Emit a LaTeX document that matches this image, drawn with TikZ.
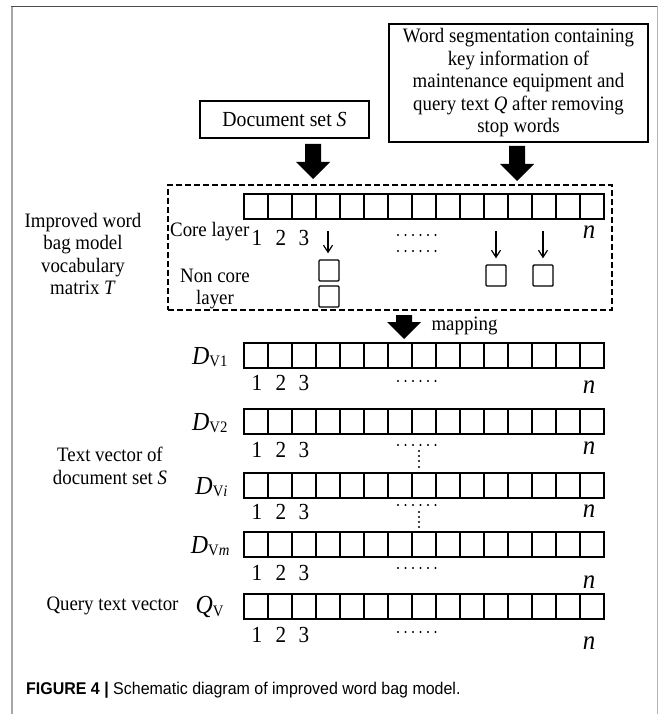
\documentclass[tikz,border=0pt]{standalone}
\usepackage{fontspec}
\setmainfont{Liberation Serif}[FakeStretch=0.92]
\setsansfont{Liberation Sans}[FakeStretch=0.94]
\usetikzlibrary{calc,arrows.meta}

\newcommand{\txtsize}{\fontsize{20.5}{22.5}\selectfont}
\newcommand{\numsize}{\fontsize{23}{24}\selectfont}
\newcommand{\nsize}{\fontsize{27}{28}\selectfont}
\newcommand{\vecname}[2]{{\fontsize{26}{27}\selectfont\textit{#1}}\raisebox{-0.6ex}{\fontsize{16}{16}\selectfont #2}}

\tikzset{
  cell/.style={draw, line width=1.5pt, minimum width=24pt, minimum height=25pt, inner sep=0pt, anchor=north west},
  textbox/.style={draw, line width=1.4pt, align=center, inner sep=2pt, font=\txtsize},
  smallbox/.style={draw, line width=1.4pt, minimum width=20pt, minimum height=21pt, inner sep=0pt, rounded corners=1pt},
  thinarrow/.style={-{Straight Barb[length=7pt,width=9pt]}, line width=1.2pt},
  fatarrow/.style={fill=black, to path={
    ($(\tikztostart)+(-8pt,0pt)$) -- ($(\tikztotarget)+(-8pt,17pt)$) -- ($(\tikztotarget)+(-17pt,17pt)$)
    -- (\tikztotarget) -- ($(\tikztotarget)+(17pt,17pt)$) -- ($(\tikztotarget)+(8pt,17pt)$)
    -- ($(\tikztostart)+(8pt,0pt)$) -- cycle}},
}

\begin{document}
\begin{tikzpicture}[x=1pt, y=-1pt]
  \useasboundingbox (0,0) rectangle (664,714);
  % frame of the figure
  \draw[black!35, line width=2pt] (12,6) -- (12,714);
  \draw[black!70, line width=1pt] (11,6.5) -- (657,6.5);
  \draw[black!30, line width=0.8pt] (657,6) -- (657,714);

  % input boxes
  \node[textbox, minimum width=169pt, minimum height=37pt, font=\fontsize{21.5}{24}\selectfont] (docset) at (284.5,119.5) {Document set \textit{S}};
  \node[textbox, minimum width=259pt, minimum height=118pt] (wordseg) at (518.5,83) {Word segmentation containing\\ key information of\\ maintenance equipment and\\ query text \textit{Q} after removing\\ stop words};
  \coordinate (a1top) at (313,144);
  \coordinate (a1tip) at (313,179);
  \coordinate (a2top) at (517,146);
  \coordinate (a2tip) at (517,181);
  \fill[fatarrow] (a1top) to (a1tip);
  \fill[fatarrow] (a2top) to (a2tip);

  % vocabulary matrix
  \node[draw, line width=1.4pt, dash pattern=on 6pt off 3pt, minimum width=444pt, minimum height=125pt] (vocab) at (390,247.5) {};
  \node[align=center, font=\txtsize] (vocablab) at (83,254) {Improved word\\ bag model\\ vocabulary\\ matrix \textit{T}};
  \node[anchor=west, inner sep=0pt, font=\txtsize] (corelab) at (170,232) {Core layer};
  \node[align=center, font=\txtsize] (noncorelab) at (215,289) {Non core\\ layer};

  % rows of cells
  \foreach \r/\y in {core/193, v1/342, v2/408, vi/472, vm/531, q/593}
    \foreach \k in {1,...,15}
      \node[cell] (\r-\k) at ({243+24*(\k-1)},\y) {};

  % indices under the rows
  \foreach \r/\y/\ny in {core/238/232, v1/383/387, v2/450/448, vi/512/511, vm/573/582, q/635/643} {
    \node[font=\numsize] (\r-one) at (257,\y) {1};
    \node[font=\numsize] (\r-two) at (281,\y) {2};
    \node[font=\numsize] (\r-three) at (304,\y) {3};
    \node[font=\nsize] (\r-n) at (589,\ny) {\textit{n}};
  }
  \foreach \y in {235, 251, 381, 445, 505, 568, 632}
    \foreach \j in {0,...,5}
      \fill ({398+7.5*\j},\y) circle (1.2pt);
  \foreach \y in {451, 456, 461, 467, 512, 517, 522, 527}
    \fill (419,\y) circle (1.2pt);

  % non core entries
  \node[smallbox] (nc1) at (329,270.5) {};
  \node[smallbox] (nc2) at (329,296.5) {};
  \node[smallbox] (nc3) at (496,275.5) {};
  \node[smallbox] (nc4) at (543,275.5) {};
  \draw[thinarrow] (nc1.north) ++(-1,-28) -- ++(0,22);
  \draw[thinarrow] (nc3.north) ++(0,-33) -- ++(0,27);
  \draw[thinarrow] (nc4.north) ++(0,-33) -- ++(0,27);

  % mapping
  \coordinate (maptop) at (404,315);
  \coordinate (maptip) at (404,339);
  \fill[fatarrow] (maptop) to (maptip);
  \node[anchor=west, font=\txtsize] (maplab) at (428,326) {mapping};

  % row names
  \node[anchor=east] (v1-lab) at (231,357) {\vecname{D}{V1}};
  \node[anchor=east] (v2-lab) at (231,423) {\vecname{D}{V2}};
  \node[anchor=east] (vi-lab) at (231,487) {\vecname{D}{V\textit{i}}};
  \node[anchor=east] (vm-lab) at (233,546) {\vecname{D}{V\textit{m}}};
  \node[anchor=east] (q-lab) at (227,607) {\vecname{Q}{V}};
  \node[align=center, font=\txtsize] (textveclab) at (110,466) {Text vector of\\ document set \textit{S}};
  \node[anchor=east, font=\txtsize] (querylab) at (182,606) {Query text vector};

  % caption
  \node[anchor=west, inner sep=0pt, font=\fontsize{17}{18}\selectfont\sffamily] (caption) at (26,690) {\textbf{FIGURE 4 |} Schematic diagram of improved word bag model.};
\end{tikzpicture}
\end{document}
